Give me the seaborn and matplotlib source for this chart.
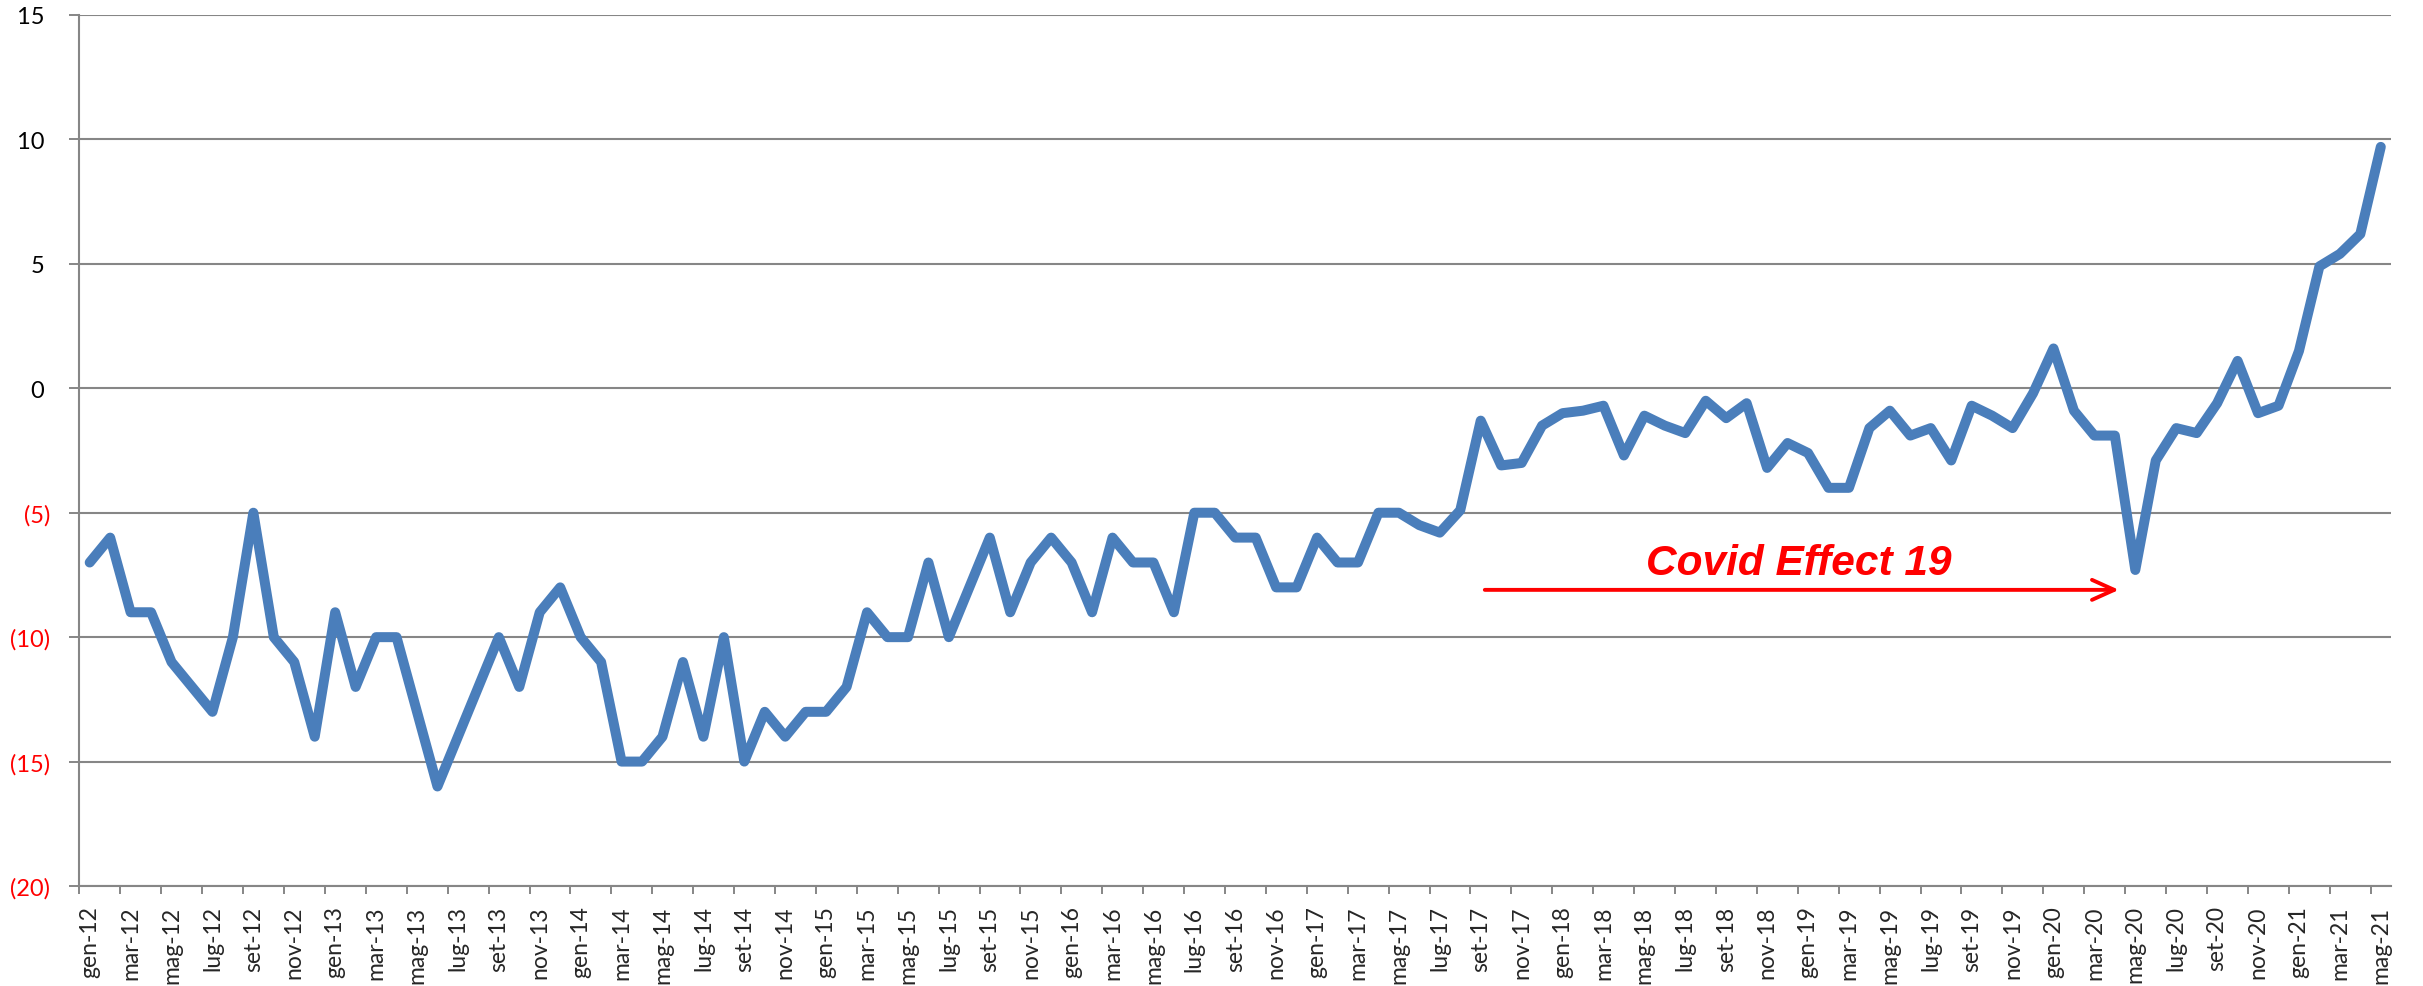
import numpy as np
import pandas as pd
import matplotlib
matplotlib.use("Agg")
import matplotlib.pyplot as plt
import seaborn as sns

# month labels (Italian abbreviations), gen-12 .. mag-21
mesi = ["gen", "feb", "mar", "apr", "mag", "giu", "lug", "ago", "set", "ott", "nov", "dic"]
anni = ["12", "13", "14", "15", "16", "17", "18", "19", "20", "21"]
etichette = [m + "-" + a for a in anni for m in mesi][:113]

valori = [
    -7, -6, -9, -9, -11, -12, -13, -10, -5, -10, -11, -14,            # 2012
    -9, -12, -10, -10, -13, -16, -14, -12, -10, -12, -9, -8,          # 2013
    -10, -11, -15, -15, -14, -11, -14, -10, -15, -13, -14, -13,       # 2014
    -13, -12, -9, -10, -10, -7, -10, -8, -6, -9, -7, -6,              # 2015
    -7, -9, -6, -7, -7, -9, -5, -5, -6, -6, -8, -8,                   # 2016
    -6, -7, -7, -5, -5, -5.5, -5.8, -4.9, -1.3, -3.1, -3.0, -1.5,     # 2017
    -1.0, -0.9, -0.7, -2.7, -1.1, -1.5, -1.8, -0.5, -1.2, -0.6, -3.2, -2.2,  # 2018
    -2.6, -4.0, -4.0, -1.6, -0.9, -1.9, -1.6, -2.9, -0.7, -1.1, -1.6, -0.2,  # 2019
    1.6, -0.9, -1.9, -1.9, -7.3, -2.9, -1.6, -1.8, -0.6, 1.1, -1.0, -0.7,    # 2020
    1.5, 4.9, 5.4, 6.2, 9.7,                                          # 2021
]

y_ticks = [-20, -15, -10, -5, 0, 5, 10, 15]
y_labels = ["(20)", "(15)", "(10)", "(5)", "0 ", "5 ", "10 ", "15 "]

# annotation
testo = "Covid Effect 19"
freccia_da = 68.2   # set-17
freccia_a = 99.2    # ~apr-20
freccia_y = -8.1

df = pd.DataFrame({"pos": np.arange(len(valori)), "valore": valori})

sns.set_style("white")
plt.rcParams["font.family"] = ["Lato", "DejaVu Sans"]

fig, ax = plt.subplots(figsize=(24.23, 9.87), dpi=100)
fig.subplots_adjust(left=0.0328, right=0.9868, top=0.9838, bottom=0.1013)

grigio = "#868686"

sns.lineplot(data=df, x="pos", y="valore", ax=ax, color="#4A7EBB",
             linewidth=7.2, zorder=3)
ax.lines[0].set_solid_joinstyle("round")
ax.lines[0].set_solid_capstyle("round")

ax.set_xlim(-0.5, len(valori) - 0.5)
ax.set_ylim(-20, 15)

# y axis
ax.set_yticks(y_ticks)
ax.set_yticklabels(y_labels, fontsize=17)
for t, v in zip(ax.get_yticklabels(), y_ticks):
    t.set_color("red" if v < 0 else "black")
ax.yaxis.grid(True, color=grigio, linewidth=1.5)
ax.tick_params(axis="y", which="major", length=7, width=1.4, color=grigio,
               direction="out", pad=14, left=True)

# x axis: labels every 2 months, tick marks between categories
ax.set_xticks(np.arange(0, len(valori), 2))
ax.set_xticklabels(etichette[::2], rotation=90, fontsize=16.5)
ax.set_xticks(np.arange(-0.5, len(valori) - 1, 2), minor=True)
ax.tick_params(axis="x", which="major", length=0, pad=14)
ax.tick_params(axis="x", which="minor", length=6, width=1.4, color=grigio,
               direction="out", bottom=True)
ax.xaxis.grid(False)

for s in ["top", "right"]:
    ax.spines[s].set_visible(False)
for s in ["left", "bottom"]:
    ax.spines[s].set_color(grigio)
    ax.spines[s].set_linewidth(1.5)

ax.set_xlabel("")
ax.set_ylabel("")

# Covid annotation
ax.annotate("", xy=(freccia_a, freccia_y), xytext=(freccia_da, freccia_y),
            arrowprops=dict(arrowstyle="->,head_length=0.4,head_width=0.18",
                            color="red", lw=2.8, mutation_scale=40,
                            shrinkA=0, shrinkB=0), zorder=4)
ax.text(83.55, -7.45, testo, color="red", fontsize=30.5, fontweight="bold",
        fontstyle="italic", family="Liberation Sans", ha="center",
        va="baseline", zorder=4)

fig.savefig("out.png", dpi=100)
